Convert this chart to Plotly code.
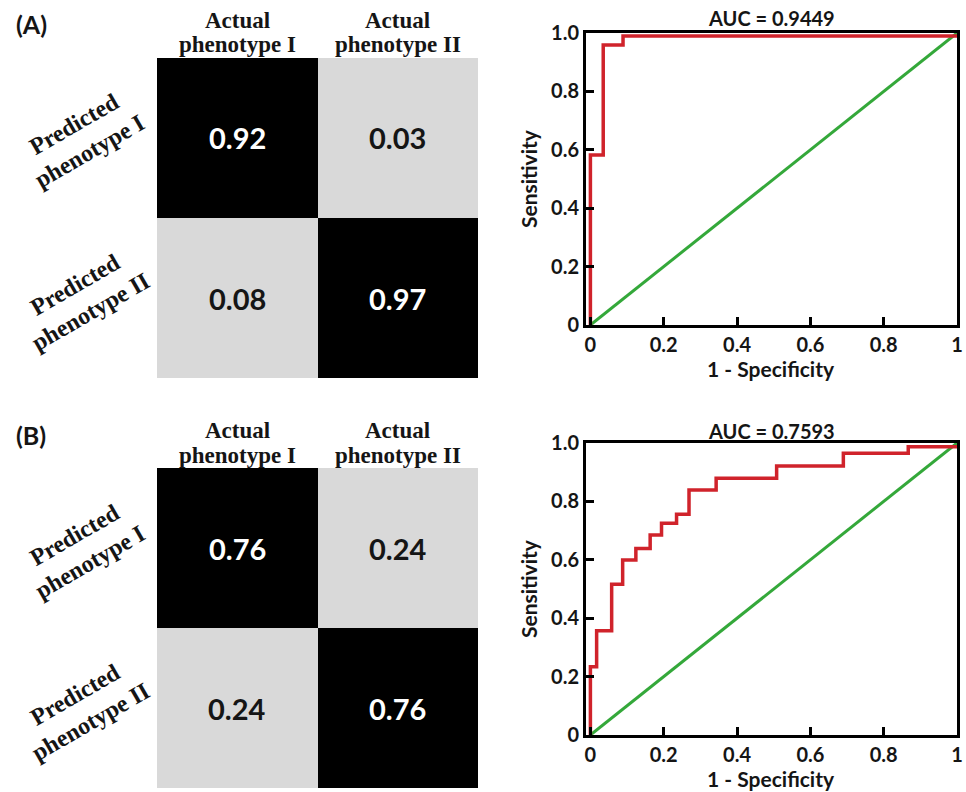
import plotly.graph_objects as go

# ---------------- data ----------------
col_labels = ["Actual phenotype I", "Actual phenotype II"]
row_labels = ["Predicted phenotype I", "Predicted phenotype II"]
cm_a = [[0.92, 0.03], [0.08, 0.97]]
cm_b = [[0.76, 0.24], [0.24, 0.76]]
panel_labels = ["(A)", "(B)"]
auc_a = "0.9449"
auc_b = "0.7593"

roc_a_fpr = [0, 0, 0.035, 0.089, 1.0]
roc_a_tpr = [0, 0.582, 0.959, 0.99, 0.99]

roc_b_fpr = [0, 0, 0.017, 0.058, 0.088, 0.124, 0.163, 0.194, 0.235, 0.269,
             0.343, 0.508, 0.690, 0.867, 1.0]
roc_b_tpr = [0, 0.234, 0.357, 0.516, 0.599, 0.639, 0.685, 0.725, 0.756, 0.839,
             0.879, 0.921, 0.965, 0.987, 0.987]

chance_x = [0, 1]
chance_y = [0, 1]

x_tickvals = [0, 0.2, 0.4, 0.6, 0.8, 1]
x_ticktext = ["0", "0.2", "0.4", "0.6", "0.8", "1"]
y_tickvals = [0, 0.2, 0.4, 0.6, 0.8, 1.0]
y_ticktext = ["0", "0.2", "0.4", "0.6", "0.8", "1.0"]

# ---------------- layout helpers ----------------
W, H = 966, 792
def px(x):
    return x / W
def py(y):
    return 1 - y / H

SANS = "Lato"
SERIF = "Liberation Serif"
GRAY = "#d9d9d9"
RED = "#d0232b"
GREEN = "#34a83a"
TXT = "#151515"

fig = go.Figure()

binary_scale = [[0, GRAY], [0.5, GRAY], [0.5, "black"], [1, "black"]]

# heatmaps
for k, cm in enumerate([cm_a, cm_b]):
    ax = "" if k == 0 else "2"
    fig.add_trace(go.Heatmap(
        z=cm, x=[0, 1], y=[0, 1], colorscale=binary_scale, zmin=0, zmax=1,
        showscale=False, hoverinfo="skip",
        xaxis="x" + ax, yaxis="y" + ax))

# ROC curves
for k, (fx, ty) in enumerate([(roc_a_fpr, roc_a_tpr), (roc_b_fpr, roc_b_tpr)]):
    ax = "3" if k == 0 else "4"
    fig.add_trace(go.Scatter(x=chance_x, y=chance_y, mode="lines",
                             line=dict(color=GREEN, width=3),
                             xaxis="x" + ax, yaxis="y" + ax, showlegend=False))
    fig.add_trace(go.Scatter(x=fx, y=ty, mode="lines", line_shape="hv",
                             line=dict(color=RED, width=3.5),
                             xaxis="x" + ax, yaxis="y" + ax, showlegend=False))

hm_x = [px(157), px(478)]
hm_a_y = [py(378), py(58)]
hm_b_y = [py(788), py(468)]
roc_x = [px(586), px(957)]
roc_a_y = [py(325), py(33)]
roc_b_y = [py(735), py(443)]

hidden = dict(visible=False, showgrid=False, zeroline=False, automargin=False)
tickfont = dict(family=SANS, size=20, color=TXT, weight="bold")
roc_xaxis = dict(range=[-0.012, 1.0], showline=True, linecolor="black", linewidth=3,
                 mirror=True, ticks="inside", ticklen=8, tickwidth=3, tickcolor="black",
                 showgrid=False, zeroline=False, tickvals=x_tickvals, ticktext=x_ticktext,
                 tickfont=tickfont, fixedrange=True, automargin=False)
roc_yaxis = dict(range=[0, 1.0], showline=True, linecolor="black", linewidth=3,
                 mirror=True, ticks="inside", ticklen=8, tickwidth=3, tickcolor="black",
                 showgrid=False, zeroline=False, tickvals=y_tickvals, ticktext=y_ticktext,
                 tickfont=tickfont, fixedrange=True, automargin=False)

fig.update_layout(
    width=W, height=H, margin=dict(l=0, r=0, t=0, b=0, pad=0),
    paper_bgcolor="white", plot_bgcolor="white", showlegend=False,
    xaxis=dict(domain=hm_x, range=[-0.5, 1.5], **hidden),
    yaxis=dict(domain=hm_a_y, range=[1.5, -0.5], **hidden),
    xaxis2=dict(domain=hm_x, range=[-0.5, 1.5], **hidden),
    yaxis2=dict(domain=hm_b_y, range=[1.5, -0.5], **hidden),
    xaxis3=dict(domain=roc_x, anchor="y3", **roc_xaxis),
    yaxis3=dict(domain=roc_a_y, anchor="x3", **roc_yaxis),
    xaxis4=dict(domain=roc_x, anchor="y4", **roc_xaxis),
    yaxis4=dict(domain=roc_b_y, anchor="x4", **roc_yaxis),
)

ann = []
def add(**kw):
    kw.setdefault("showarrow", False)
    kw.setdefault("xanchor", "center")
    kw.setdefault("yanchor", "middle")
    ann.append(kw)

# cell values, headers, row labels
for k, cm in enumerate([cm_a, cm_b]):
    ax = "" if k == 0 else "2"
    top = 58 if k == 0 else 468
    for i in range(2):
        for j in range(2):
            v = cm[i][j]
            add(x=j, y=i, xref="x" + ax, yref="y" + ax, text=f"{v:.2f}",
                font=dict(family=SANS, size=29, weight="bold",
                          color="white" if v > 0.5 else TXT))
    for j, lab in enumerate(col_labels):
        first, rest = lab.split(" ", 1)
        add(x=j, y=py(top - 38), xref="x" + ax, yref="paper", text=first,
            font=dict(family=SERIF, size=23, weight="bold", color=TXT))
        add(x=j, y=py(top - 13), xref="x" + ax, yref="paper", text=rest,
            font=dict(family=SERIF, size=23, weight="bold", color=TXT))
    for i, lab in enumerate(row_labels):
        first, rest = lab.split(" ", 1)
        add(x=px(82), y=i, xref="paper", yref="y" + ax,
            text=first + "<br>" + rest, textangle=-30,
            font=dict(family=SERIF, size=24, weight="bold", color=TXT))

# panel labels
for lab, ypix in zip(panel_labels, [24, 435]):
    add(x=px(31), y=py(ypix), xref="paper", yref="paper", text=lab,
        font=dict(family=SANS, size=25, weight="bold", color=TXT))

# ROC titles & axis titles
for auc, ytitle, ybox_mid, yxt in [(auc_a, 18, 179, 368), (auc_b, 431, 589, 778)]:
    add(x=px(771), y=py(ytitle), xref="paper", yref="paper",
        text=f"AUC = {auc}",
        font=dict(family=SANS, size=20, weight="bold", color=TXT))
    add(x=px(771), y=py(yxt), xref="paper", yref="paper",
        text="1 - Specificity",
        font=dict(family=SANS, size=21, weight="bold", color=TXT))
    add(x=px(528), y=py(ybox_mid), xref="paper", yref="paper",
        text="Sensitivity", textangle=-90,
        font=dict(family=SANS, size=21, weight="bold", color=TXT))

fig.update_layout(annotations=ann)
fig.write_html("out.html", config={"displayModeBar": False},
               post_script="document.body.style.margin='0';document.body.style.overflow='hidden';")
